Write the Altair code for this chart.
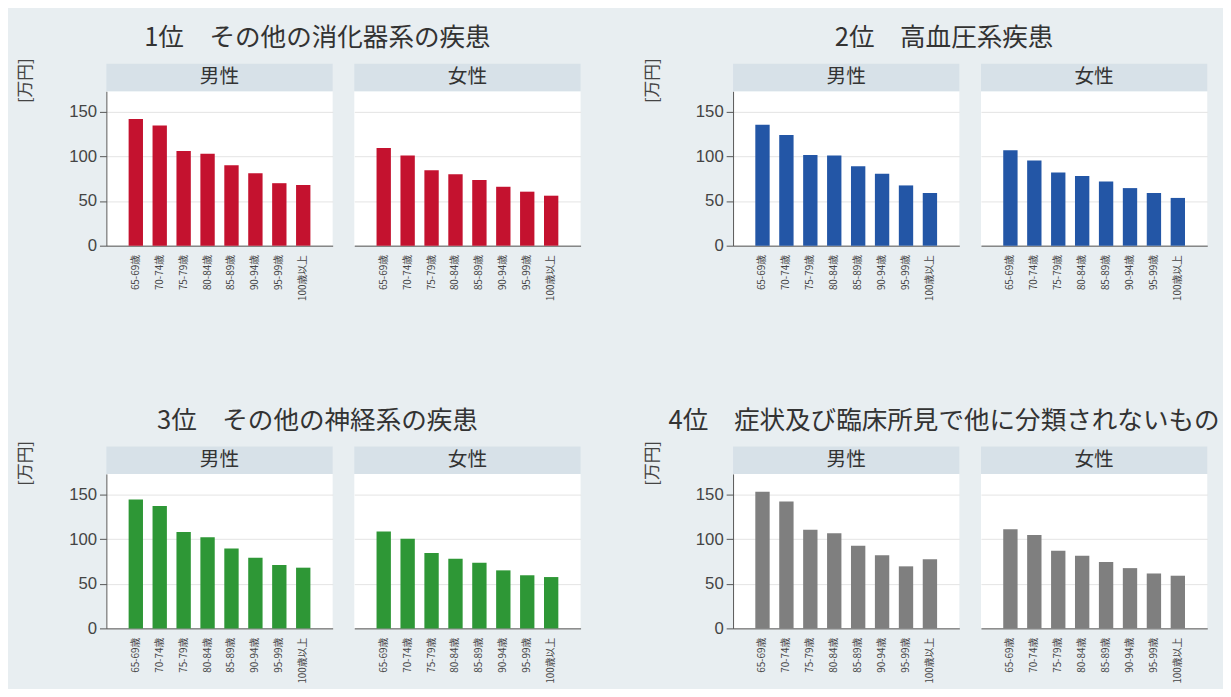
import altair as alt
import pandas as pd

ages = ["65-69歳", "70-74歳", "75-79歳", "80-84歳", "85-89歳", "90-94歳", "95-99歳", "100歳以上"]
sexes = ["男性", "女性"]

titles = [
    "1位　その他の消化器系の疾患",
    "2位　高血圧系疾患",
    "3位　その他の神経系の疾患",
    "4位　症状及び臨床所見で他に分類されないもの",
]
colors = ["#c4122f", "#2356a6", "#2e9736", "#7f7f7f"]

d1_m = [142, 134.5, 106, 103, 90, 81, 70, 68]
d1_f = [109.5, 101, 84.5, 80, 73.5, 66, 60.5, 56]
d2_m = [135.5, 124, 101.5, 101, 89, 80.5, 67.5, 59]
d2_f = [107, 95.5, 82, 78, 72, 64.5, 59, 53.5]
d3_m = [144.5, 137, 108, 102, 89.5, 79, 71, 68]
d3_f = [108.5, 100.5, 84.5, 78, 73.5, 65, 59.5, 57.5]
d4_m = [153, 142, 110.5, 106.5, 92.5, 82, 69.5, 77.5]
d4_f = [111, 104.5, 87, 81.5, 74.5, 67.5, 61.5, 59]

series = [(d1_m, d1_f), (d2_m, d2_f), (d3_m, d3_f), (d4_m, d4_f)]

FONT = "Noto Sans CJK JP"
NUMFONT = "Liberation Sans"
BG = "#e8eef1"
HEADER = "#d7e1e8"
W = 230
H = 157
HH = 28


def panel(values, sex, color, first):
    df = pd.DataFrame({"age": ages, "value": values})
    hdr = pd.DataFrame({"label": [sex]})
    if first:
        yaxis = alt.Axis(
            values=[0, 50, 100, 150], grid=True, gridColor="#e3e3e3",
            domain=True, domainColor="#555555", tickColor="#555555", tickSize=7,
            labelFontSize=17, labelFont=NUMFONT, labelColor="#444444", labelPadding=3,
            title="[万円]", titleAngle=270, titleX=-82, titleY=-HH - 6,
            titleAlign="right", titleBaseline="middle", titleFontSize=17,
            titleFontWeight="normal", titleColor="#444444",
        )
    else:
        yaxis = alt.Axis(
            values=[0, 50, 100, 150], grid=True, gridColor="#e3e3e3",
            domain=False, ticks=False, labels=False, title=None,
        )
    bars = alt.Chart(df).mark_bar(color=color).encode(
        x=alt.X("age:N", sort=ages,
                scale=alt.Scale(paddingInner=0.4, paddingOuter=0.93),
                axis=alt.Axis(title=None, labelAngle=270, labelFontSize=10,
                              labelColor="#444444", ticks=False,
                              domainColor="#555555", labelPadding=9)),
        y=alt.Y("value:Q", scale=alt.Scale(domain=[0, 173], nice=False), axis=yaxis),
    )
    head = alt.Chart(hdr).mark_rect(color=HEADER).encode(
        x=alt.value(0), x2=alt.value(W), y=alt.value(-HH), y2=alt.value(0)
    )
    htext = alt.Chart(hdr).mark_text(fontSize=20, font=FONT, color="#333333").encode(
        x=alt.value(W / 2), y=alt.value(-HH / 2), text="label:N"
    )
    return alt.layer(head, htext, bars).properties(width=W, height=H)


groups = []
for i, (m, f) in enumerate(series):
    g = alt.hconcat(
        panel(m, sexes[0], colors[i], True),
        panel(f, sexes[1], colors[i], False),
        spacing=22,
        title=alt.TitleParams(titles[i], fontSize=26, font=FONT, fontWeight="normal",
                              color="#333333", anchor="middle", offset=7, dx=19),
    )
    groups.append(g)

chart = alt.vconcat(
    alt.hconcat(groups[0], groups[1], spacing=64),
    alt.hconcat(groups[2], groups[3], spacing=64),
    spacing=109,
).properties(background=BG, padding={"left": 9, "top": 12, "right": 3, "bottom": 0}).configure_view(
    fill="white", stroke=None
).configure_axis(labelFont=FONT, titleFont=FONT).configure_title(font=FONT)

chart.save("out.html", embed_options={"renderer": "svg", "actions": False})
